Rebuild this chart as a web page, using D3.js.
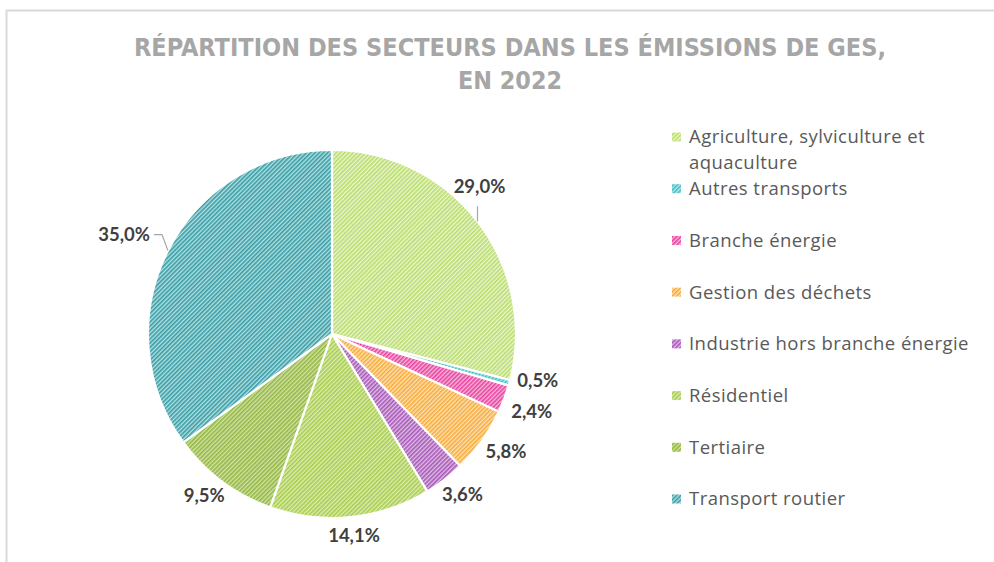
<!DOCTYPE html>
<html>
<head>
<meta charset="utf-8">
<script src="https://cdn.jsdelivr.net/npm/d3@7"></script>
<style>
html,body{margin:0;padding:0;background:#fff;}
svg{display:block;}
</style>
</head>
<body>
<svg id="chart" width="994" height="562"></svg>
<script>
// ---- data ----
const categories = [
  "Agriculture, sylviculture et aquaculture",
  "Autres transports",
  "Branche énergie",
  "Gestion des déchets",
  "Industrie hors branche énergie",
  "Résidentiel",
  "Tertiaire",
  "Transport routier"
];
const values = [29.0, 0.5, 2.4, 5.8, 3.6, 14.1, 9.5, 35.0];
const valueLabels = ["29,0%", "0,5%", "2,4%", "5,8%", "3,6%", "14,1%", "9,5%", "35,0%"];
const darkColors  = ["#b9dc6e", "#3fbfc6", "#e8429f", "#f7ab3c", "#a558b5", "#a8cc4e", "#93b744", "#3a9aa3"];
const lightColors = ["#eaf6cf", "#b4e8ea", "#f8b9dc", "#fde2b6", "#e2bfe8", "#dcedb2", "#d2e3a6", "#b2e3e4"];
const titleLines = ["RÉPARTITION DES SECTEURS DANS LES ÉMISSIONS DE GES,", "EN 2022"];

const svg = d3.select("#chart");
const W = 994, H = 562;

// frame
svg.append("path")
  .attr("d", `M6.5,${H} V10.5 H${W}`)
  .attr("fill", "none").attr("stroke", "#d9d9d9").attr("stroke-width", 2);

// patterns
const defs = svg.append("defs");
categories.forEach((c, i) => {
  const p = defs.append("pattern")
    .attr("id", "pat" + i)
    .attr("patternUnits", "userSpaceOnUse")
    .attr("width", 3).attr("height", 3)
    .attr("patternTransform", "rotate(45)");
  p.append("rect").attr("width", 3).attr("height", 3).attr("fill", lightColors[i]);
  p.append("rect").attr("width", 1.6).attr("height", 3).attr("fill", darkColors[i]);
});

// title
const title = svg.append("g").attr("fill", "#a6a6a6")
  .style("font-family", "'DejaVu Sans Condensed', 'DejaVu Sans', sans-serif")
  .style("font-weight", "bold").style("font-size", "24px");
title.append("text").attr("x", 510).attr("y", 56).attr("text-anchor", "middle")
  .attr("textLength", 752).attr("lengthAdjust", "spacingAndGlyphs").text(titleLines[0]);
title.append("text").attr("x", 510).attr("y", 89).attr("text-anchor", "middle")
  .attr("textLength", 104).attr("lengthAdjust", "spacingAndGlyphs").text(titleLines[1]);

// pie
const cx = 332, cy = 334, R = 184;
const pie = d3.pie().sort(null).value(d => d)(values);
const arc = d3.arc().innerRadius(0).outerRadius(R);
const g = svg.append("g").attr("transform", `translate(${cx},${cy})`);
g.selectAll("path.slice").data(pie).join("path")
  .attr("class", "slice")
  .attr("d", arc)
  .attr("fill", (d, i) => `url(#pat${i})`)
  .attr("stroke", "#fff").attr("stroke-width", 2.2).attr("stroke-linejoin", "round");

// data labels
const labG = g.append("g")
  .style("font-family", "Lato, 'Open Sans', sans-serif")
  .style("font-weight", "bold").style("font-size", "18.5px").attr("fill", "#404040");
const gap = 9;
const labs = [];
pie.forEach((d, i) => {
  const a = (d.startAngle + d.endAngle) / 2;
  const sx = Math.sin(a), sy = -Math.cos(a);
  const t = labG.append("text").attr("text-anchor", "middle").text(valueLabels[i]);
  const w = t.node().getBBox().width, h = 18;
  const ex = sx * R, ey = sy * R; // arc edge point
  let lx, ly;
  if (i === 0) {
    lx = ex + 2; ly = ey - 35;
    labG.append("path").attr("d", `M${ex},${ey} V${ey - 15}`)
      .attr("stroke", "#a6a6a6").attr("stroke-width", 1.2).attr("fill", "none");
  } else if (i === values.length - 1) {
    lx = ex - 18 - w / 2; ly = ey - 16;
    labG.append("path").attr("d", `M${ex},${ey} L${ex - 6},${ey - 16} H${ex - 14}`)
      .attr("stroke", "#a6a6a6").attr("stroke-width", 1.2).attr("fill", "none");
  } else {
    lx = sx * (R + gap) + sx * w / 2;
    ly = sy * (R + gap) + sy * h / 2;
  }
  labs.push({t, lx, ly, w, h});
});
// resolve collisions between consecutive labels (push apart vertically)
for (let k = 1; k < labs.length; k++) {
  const A = labs[k - 1], B = labs[k];
  const overlapX = Math.abs(A.lx - B.lx) < (A.w + B.w) / 2;
  const minSep = 31;
  if (overlapX && Math.abs(B.ly - A.ly) < minSep) {
    const need = minSep - Math.abs(B.ly - A.ly);
    A.ly -= need * 0.55; B.ly += need * 0.45;
  }
}
labs.forEach(L => L.t.attr("x", L.lx).attr("y", L.ly).attr("dy", "0.36em"));

// legend
const legY = d3.scalePoint().domain(categories).range([137, 499]);
const leg = svg.append("g")
  .style("font-family", "'Open Sans', sans-serif").style("font-size", "18.5px")
  .style("letter-spacing", "0.45px").attr("fill", "#595959");
categories.forEach((c, i) => {
  const y = legY(c);
  leg.append("rect").attr("x", 672).attr("y", y - 4.5).attr("width", 9).attr("height", 9)
    .attr("fill", `url(#pat${i})`);
  const t = leg.append("text").attr("x", 689).attr("y", y).attr("dy", "0.35em");
  if (i === 0) {
    t.text("Agriculture, sylviculture et");
    leg.append("text").attr("x", 689).attr("y", y + 26).attr("dy", "0.35em").text("aquaculture");
  } else {
    t.text(c);
  }
});
</script>
</body>
</html>
